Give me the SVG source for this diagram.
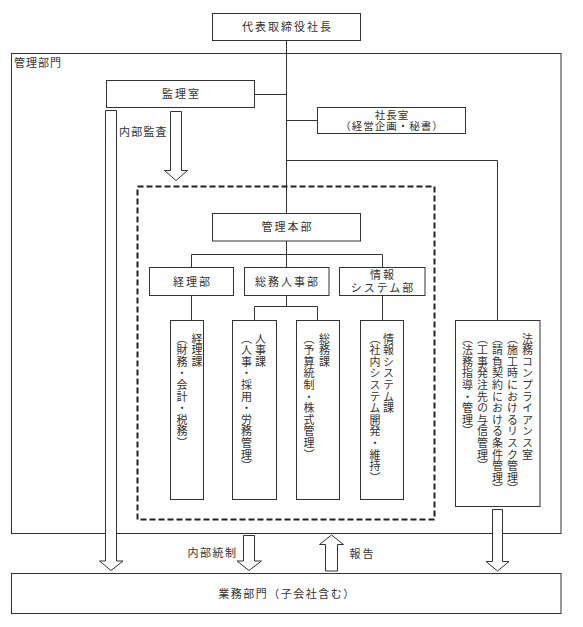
<svg xmlns="http://www.w3.org/2000/svg" width="583" height="627" viewBox="0 0 583 627">
<style>
.box{fill:#fff;stroke:#333;stroke-width:1}
.frame{fill:none;stroke:#333;stroke-width:1}
.ln{fill:none;stroke:#333;stroke-width:1}
.dash{fill:none;stroke:#222;stroke-width:2;stroke-dasharray:6 3}
.arr{fill:#fff;stroke:#333;stroke-width:1;stroke-linejoin:miter}
.t{font-family:"Noto Sans CJK JP","Noto Sans CJK SC",sans-serif;font-size:11px;fill:#333;letter-spacing:2px}
.c{text-anchor:middle}
.s{font-size:10.5px;letter-spacing:1px}
.v{font-family:"Noto Sans CJK JP","Noto Sans CJK SC",sans-serif;font-size:11px;fill:#333;letter-spacing:0.6px;writing-mode:vertical-rl}
</style>
<rect width="583" height="627" fill="#fff"/>
<g id="kanri-bumon">
<rect class="frame" x="11.5" y="53.5" width="549.5" height="480"/>
<text class="t" x="14" y="66.5" style="letter-spacing:1px">管理部門</text>
</g>
<g id="connectors">
<path class="ln" d="M286.5 40.5V213.5"/>
<path class="ln" d="M254.5 94.5H286.5"/>
<path class="ln" d="M286.5 120.5H317.5"/>
<path class="ln" d="M286.5 160.5H497.5V320.5"/>
<path class="ln" d="M286.5 241V267.5"/>
<path class="ln" d="M191.5 267.5V254.5H382.5V267.5"/>
<path class="ln" d="M191.5 295.5V320.5"/>
<path class="ln" d="M382.5 295.5V320.5"/>
<path class="ln" d="M286.5 295.5V306.5"/>
<path class="ln" d="M254.5 320.5V306.5H317.5V320.5"/>
</g>
<g id="ceo">
<rect class="box" x="212.5" y="13.5" width="148" height="27"/>
<text class="t c" x="287.5" y="31">代表取締役社長</text>
</g>
<g id="kanrishitsu">
<rect class="box" x="106.5" y="80.5" width="148" height="27"/>
<text class="t c" x="181.5" y="98">監理室</text>
</g>
<g id="shachoshitsu">
<rect class="box" x="317.5" y="107.5" width="148" height="26"/>
<text class="t s c" x="392" y="118.5">社長室<tspan x="392" dy="11">（経営企画・秘書）</tspan></text>
</g>
<g id="naibu-kansa">
<polygon class="arr" points="105.5,110.5 116.5,110.5 116.5,561 123,561 111,570.5 99.5,561 105.5,561"/>
<polygon class="arr" points="170.5,111.5 181.5,111.5 181.5,170.5 187.5,170.5 176,180.5 164.5,170.5 170.5,170.5"/>
<text class="t" x="119" y="135.5" style="letter-spacing:1.2px">内部監査</text>
</g>
<g id="kanri-honbu-area">
<rect class="dash" x="137.5" y="186.5" width="297" height="333"/>
</g>
<g id="kanri-honbu">
<rect class="box" x="212.5" y="213.5" width="148" height="27.5"/>
<text class="t c" x="287.5" y="231">管理本部</text>
</g>
<g id="keiri-bu">
<rect class="box" x="149.5" y="267.5" width="84" height="28"/>
<text class="t c" x="192.5" y="285.5">経理部</text>
</g>
<g id="somu-jinji-bu">
<rect class="box" x="244.5" y="267.5" width="84.5" height="28"/>
<text class="t c" x="287.5" y="285.5">総務人事部</text>
</g>
<g id="joho-system-bu">
<rect class="box" x="339.5" y="267.5" width="85.5" height="28"/>
<text class="t c" x="383" y="279">情報<tspan x="383" dy="12.5">システム部</tspan></text>
</g>
<g id="keiri-ka">
<rect class="box" x="170.5" y="320.5" width="33" height="179"/>
<text class="v" x="197" y="333">経理課</text>
<text class="v" x="182" y="333">（財務・会計・税務）</text>
</g>
<g id="jinji-ka">
<rect class="box" x="232.5" y="320.5" width="44" height="179"/>
<text class="v" x="260.5" y="333">人事課</text>
<text class="v" x="246.5" y="333">（人事・採用・労務管理）</text>
</g>
<g id="somu-ka">
<rect class="box" x="296.5" y="320.5" width="43" height="179"/>
<text class="v" x="324.5" y="333">総務課</text>
<text class="v" x="309" y="333">（予算統制・株式管理）</text>
</g>
<g id="joho-system-ka">
<rect class="box" x="360.5" y="320.5" width="43" height="179"/>
<text class="v" x="388.5" y="333">情報システム課</text>
<text class="v" x="375" y="333">（社内システム開発・維持）</text>
</g>
<g id="homu-compliance">
<rect class="box" x="455.5" y="320.5" width="84.5" height="186"/>
<text class="v" x="527.5" y="333">法務コンプライアンス室</text>
<text class="v" x="512.5" y="333">（施工時におけるリスク管理）</text>
<text class="v" x="497.5" y="333">（請負契約における条件管理）</text>
<text class="v" x="482.5" y="333">（工事発注先の与信管理）</text>
<text class="v" x="467.5" y="333">（法務指導・管理）</text>
</g>
<g id="arrows-bottom">
<polygon class="arr" points="492.5,509.5 502.5,509.5 502.5,561.5 509,561.5 497.5,571 486,561.5 492.5,561.5"/>
<polygon class="arr" points="243.5,535.5 254.5,535.5 254.5,561 261.5,561 249,570.5 237,561 243.5,561"/>
<text class="t" x="187.5" y="557" style="letter-spacing:1.5px">内部統制</text>
<polygon class="arr" points="331.5,535 343.5,544.5 337.5,544.5 337.5,571 325.5,571 325.5,544.5 319.5,544.5"/>
<text class="t" x="349.5" y="558">報告</text>
</g>
<g id="gyomu-bumon">
<rect class="box" x="11.5" y="573.5" width="549.5" height="40"/>
<text class="t c" x="287" y="597.5" style="letter-spacing:1.5px">業務部門（子会社含む）</text>
</g>
</svg>
